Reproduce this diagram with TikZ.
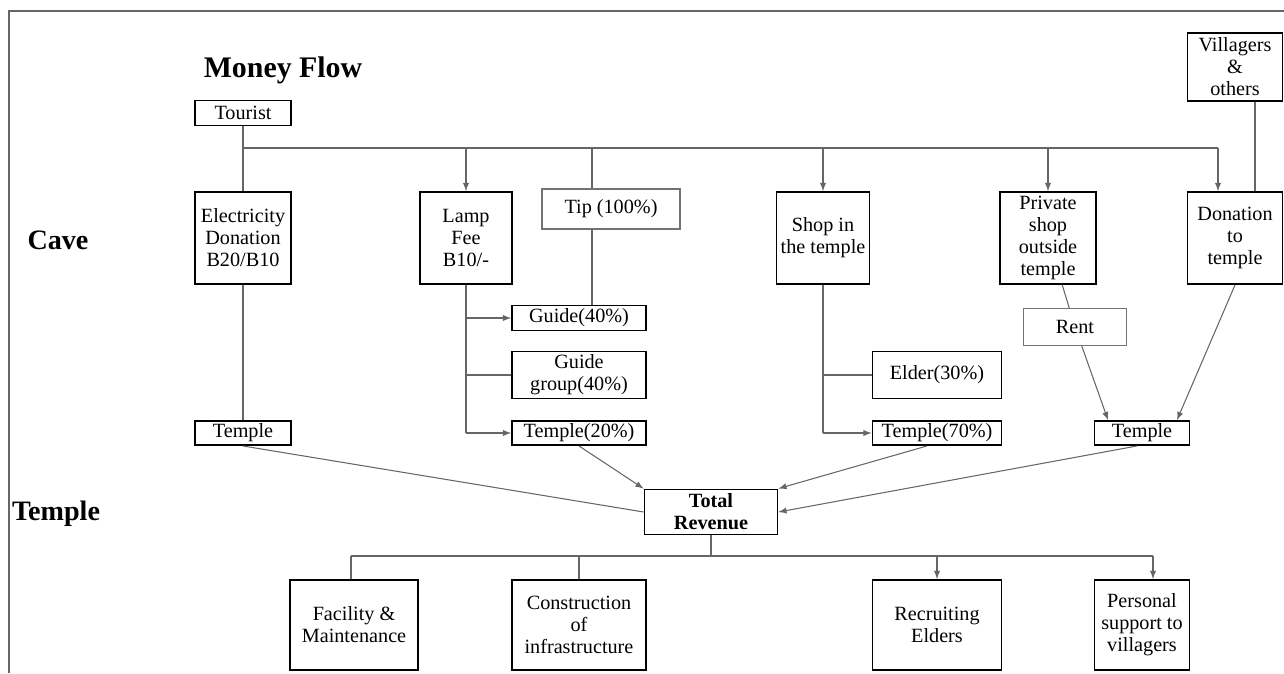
\documentclass[tikz,border=0pt]{standalone}
\usepackage{fontspec}
\setmainfont{Liberation Serif}
\usetikzlibrary{calc,arrows,positioning}

\begin{document}
\begin{tikzpicture}[x=0.02cm,y=-0.02cm,font=\fontsize{11.5}{12.5}\selectfont,>=latex]

\tikzset{cavebox/.style={draw,line width=1.1pt,align=center,inner sep=1pt,minimum width=1.92cm,minimum height=1.84cm},
smallbox/.style={cavebox,minimum height=0.48cm},
thinbox/.style={draw=black!55,line width=0.6pt,align=center,inner sep=1pt},
moneyline/.style={draw=black!60,line width=0.6pt},
heading/.style={font=\fontsize{16}{18}\selectfont\bfseries}}

\useasboundingbox (0,0) rectangle (1284,673);
\draw[black!60,line width=0.8pt] (9,673) -- (9,11) -- (1284,11);

% Headings
\node[heading,font=\fontsize{17}{20}\selectfont\bfseries] (title) at (283,70) {Money Flow};
\node[heading] (caveLabel) at (58,240) {Cave};
\node[heading] (templeLabel) at (56,514) {Temple};

% Sources
\node (tourist) [smallbox,minimum height=0.5cm] at (243,113) {Tourist};
\node (villagers) [cavebox,minimum width=1.9cm,minimum height=1.36cm] at (1235,67) {Villagers\\\&\\others};

% Cave row
\node (elec) [cavebox] at (243,238) {Electricity\\Donation\\B20/B10};
\node (lamp) [cavebox,minimum width=1.84cm] at (466,238) {Lamp\\Fee\\B10/-};
\node (tip) [thinbox,minimum width=2.76cm,minimum height=0.8cm] at (611,209) {Tip (100\%)};
\node (shop) [cavebox,minimum width=1.86cm] at (823,238) {Shop in\\the temple};
\node (private) [cavebox] at (1048,238) {Private\\shop\\outside\\temple};
\node (donation) [cavebox,minimum width=1.9cm] at (1235,238) {Donation\\to\\temple};

% Shares
\node (guide) [smallbox,minimum width=2.68cm,minimum height=0.5cm] at (579,318) {Guide(40\%)};
\node (guidegrp) [cavebox,minimum width=2.68cm,minimum height=0.94cm] at (579,375) {Guide\\group(40\%)};
\node (temple20) [smallbox,minimum width=2.68cm] at (579,433) {Temple(20\%)};
\node (elder) [cavebox,minimum width=2.58cm,minimum height=0.94cm] at (937,375) {Elder(30\%)};
\node (temple70) [smallbox,minimum width=2.58cm] at (937,433) {Temple(70\%)};
\node (rent) [thinbox,minimum width=2.06cm,minimum height=0.74cm] at (1075,327) {Rent};
\node (templeL) [smallbox] at (243,433) {Temple};
\node (templeR) [smallbox,minimum width=1.9cm] at (1142,433) {Temple};

% Temple row
\node (total) [cavebox,minimum width=2.66cm,minimum height=0.9cm,font=\fontsize{11.5}{12.5}\selectfont\bfseries] at (711,512) {Total\\Revenue};
\node (facility) [cavebox,minimum width=2.56cm,minimum height=1.8cm] at (354,625) {Facility \&\\Maintenance};
\node (construct) [cavebox,minimum width=2.68cm,minimum height=1.8cm] at (579,625) {Construction\\of\\infrastructure};
\node (recruit) [cavebox,minimum width=2.58cm,minimum height=1.8cm] at (937,625) {Recruiting\\Elders};
\node (support) [cavebox,minimum width=1.9cm,minimum height=1.8cm] at (1142,625) {Personal\\support to\\villagers};

% Bus ends
\coordinate (busTop) at (243,148);
\coordinate (busTopEnd) at (1218,148);
\coordinate (tipX) at (592,148);
\coordinate (busBot) at (351,556);
\coordinate (busBotEnd) at (1153,556);

% Edges
\draw[moneyline] (tourist) -- (elec); \draw[moneyline] (busTop) -- (busTopEnd); % tourist bus
\draw[moneyline,->] (lamp.north|-busTop) -- (lamp.north); \draw[moneyline] (tipX) -- (tipX|-tip.north); \draw[moneyline,->] (shop.north|-busTop) -- (shop.north);
\draw[moneyline,->] (private.north|-busTop) -- (private.north); \draw[moneyline,->] (busTopEnd) -- (busTopEnd|-donation.north);
\draw[moneyline] ([xshift=0.4cm]villagers.south) -- ([xshift=0.4cm]donation.north);
\draw[moneyline] (tipX|-tip.south) -- (tipX|-guide.north); % tip
\draw[moneyline] (lamp.south) -- (lamp.south|-temple20); \draw[moneyline,->] (lamp.south|-guide) -- (guide); \draw[moneyline] (lamp.south|-guidegrp) -- (guidegrp); \draw[moneyline,->] (lamp.south|-temple20) -- (temple20); % lamp fee
\draw[moneyline] (shop.south) -- (shop.south|-temple70); \draw[moneyline] (shop.south|-elder) -- (elder); \draw[moneyline,->] (shop.south|-temple70) -- (temple70); % shop
\draw[moneyline] (elec) -- (templeL);
\draw[moneyline] (private) -- (rent); \draw[moneyline,->] (rent) -- ([xshift=-0.68cm]templeR.north); \draw[moneyline,->] (donation.south) -- ([xshift=0.7cm]templeR.north);

% Into total revenue
\draw[moneyline] (templeL.south) -- (total.west);
\draw[moneyline,->] (temple20.south) -- (total.north west);
\draw[moneyline,->] ([xshift=-0.2cm]temple70.south) -- (total.north east);
\draw[moneyline,->] ([xshift=-0.1cm]templeR.south) -- (total.east);

% Spending
\draw[moneyline] (total.south) -- (total.south|-busBot); \draw[moneyline] (busBot) -- (busBotEnd);
\draw[moneyline] (busBot) -- (busBot|-facility.north); \draw[moneyline] (construct.north|-busBot) -- (construct.north);
\draw[moneyline,->] (recruit.north|-busBot) -- (recruit.north); \draw[moneyline,->] (busBotEnd) -- (busBotEnd|-support.north);

\end{tikzpicture}
\end{document}
